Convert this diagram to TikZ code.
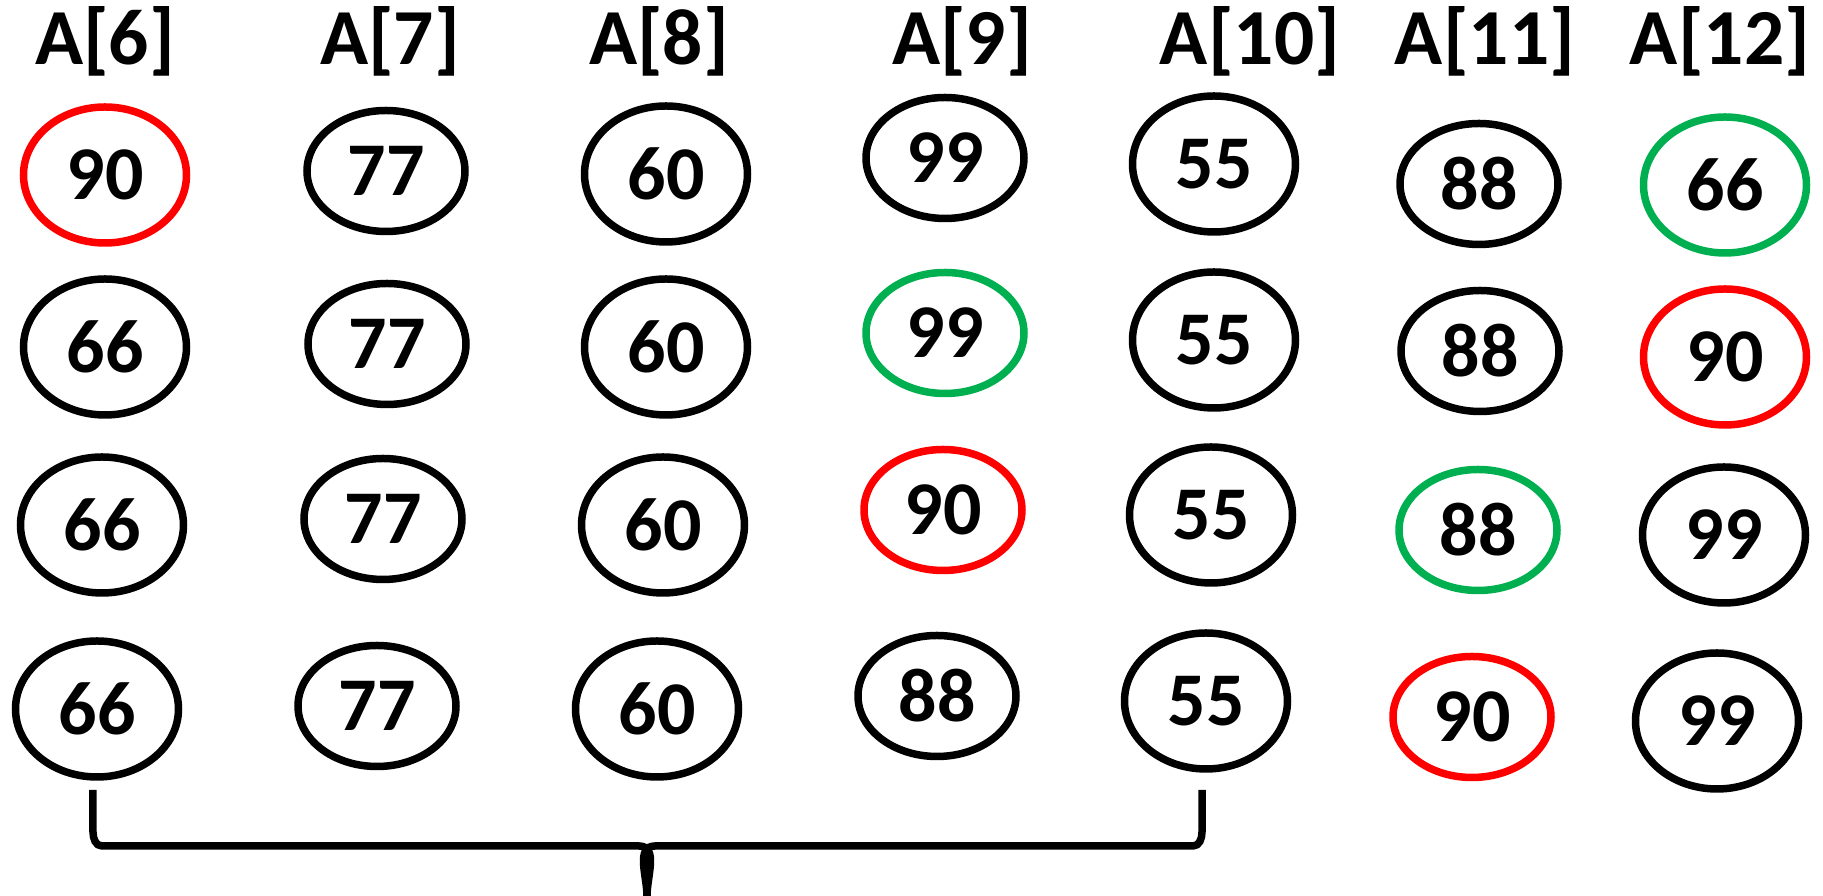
\documentclass[tikz,border=0pt]{standalone}
\usepackage{fontspec}
\setmainfont{Carlito}
\usepackage{xcolor}
\definecolor{cRed}{HTML}{FF0000}
\definecolor{cGreen}{HTML}{00B050}
\usepackage{tikz}
\usetikzlibrary{shapes.geometric}
\tikzset{
  node-cell/.style={draw=black,line width=0.075cm,ellipse,inner sep=0pt,
    minimum width=1.63cm,minimum height=1.36cm,
    font=\bfseries\fontsize{21.6}{24}\selectfont},
  node-cell-sm/.style={node-cell,minimum width=1.58cm,minimum height=1.21cm},
  node-red/.style={draw=cRed},
  node-green/.style={draw=cGreen},
  node-head/.style={anchor=base,inner sep=0pt,
    font=\bfseries\fontsize{22.6}{26}\selectfont},
  brace-line/.style={line width=0.075cm,draw=black},
}

\begin{document}
\begin{tikzpicture}
  \useasboundingbox (0,0) rectangle (18.23,-8.96);
  % column headers
  \node[node-head] (h6) at (1.05,-0.65) {A[6]};
  \node[node-head] (h7) at (3.90,-0.65) {A[7]};
  \node[node-head] (h8) at (6.59,-0.65) {A[8]};
  \node[node-head] (h9) at (9.62,-0.65) {A[9]};
  \node[node-head] (h10) at (12.50,-0.65) {A[10]};
  \node[node-head] (h11) at (14.85,-0.65) {A[11]};
  \node[node-head] (h12) at (17.20,-0.65) {A[12]};
  % A[6]
  \node[node-cell,node-red] (n6a) at (1.05,-1.75) {90};
  \node[node-cell] (n6b) at (1.05,-3.47) {66};
  \node[node-cell] (n6c) at (1.02,-5.25) {66};
  \node[node-cell] (n6d) at (0.97,-7.09) {66};
  % A[7]
  \node[node-cell-sm] (n7a) at (3.86,-1.71) {77};
  \node[node-cell-sm] (n7b) at (3.87,-3.44) {77};
  \node[node-cell-sm] (n7c) at (3.83,-5.19) {77};
  \node[node-cell-sm] (n7d) at (3.77,-7.06) {77};
  % A[8]
  \node[node-cell] (n8a) at (6.66,-1.74) {60};
  \node[node-cell] (n8b) at (6.66,-3.47) {60};
  \node[node-cell] (n8c) at (6.63,-5.25) {60};
  \node[node-cell] (n8d) at (6.57,-7.09) {60};
  % A[9]
  \node[node-cell-sm] (n9a) at (9.45,-1.58) {99};
  \node[node-cell-sm,node-green] (n9b) at (9.45,-3.33) {99};
  \node[node-cell-sm,node-red] (n9c) at (9.43,-5.10) {90};
  \node[node-cell-sm] (n9d) at (9.37,-6.96) {88};
  % A[10]
  \node[node-cell] (n10a) at (12.14,-1.64) {55};
  \node[node-cell] (n10b) at (12.14,-3.40) {55};
  \node[node-cell] (n10c) at (12.11,-5.15) {55};
  \node[node-cell] (n10d) at (12.06,-7.01) {55};
  % A[11]
  \node[node-cell-sm] (n11a) at (14.79,-1.84) {88};
  \node[node-cell-sm] (n11b) at (14.80,-3.51) {88};
  \node[node-cell-sm,node-green] (n11c) at (14.78,-5.30) {88};
  \node[node-cell-sm,node-red] (n11d) at (14.72,-7.17) {90};
  % A[12]
  \node[node-cell,node-green] (n12a) at (17.25,-1.85) {66};
  \node[node-cell,node-red] (n12b) at (17.25,-3.57) {90};
  \node[node-cell] (n12c) at (17.24,-5.35) {99};
  \node[node-cell] (n12d) at (17.17,-7.21) {99};
  % brace under A[6]..A[10]
  \coordinate (brace-l) at (0.93,-7.90);
  \coordinate (brace-r) at (12.02,-7.90);
  \coordinate (brace-tip) at (6.47,-8.96);
  \draw[brace-line] (brace-l) -- ++(0,-0.42) to[out=-90,in=180] ++(0.09,-0.14)
    -- (6.39,-8.46) to[out=0,in=90] (brace-tip);
  \draw[brace-line] (brace-r) -- ++(0,-0.42) to[out=-90,in=0] ++(-0.09,-0.14)
    -- (6.55,-8.46) to[out=180,in=90] (brace-tip);
\end{tikzpicture}
\end{document}
